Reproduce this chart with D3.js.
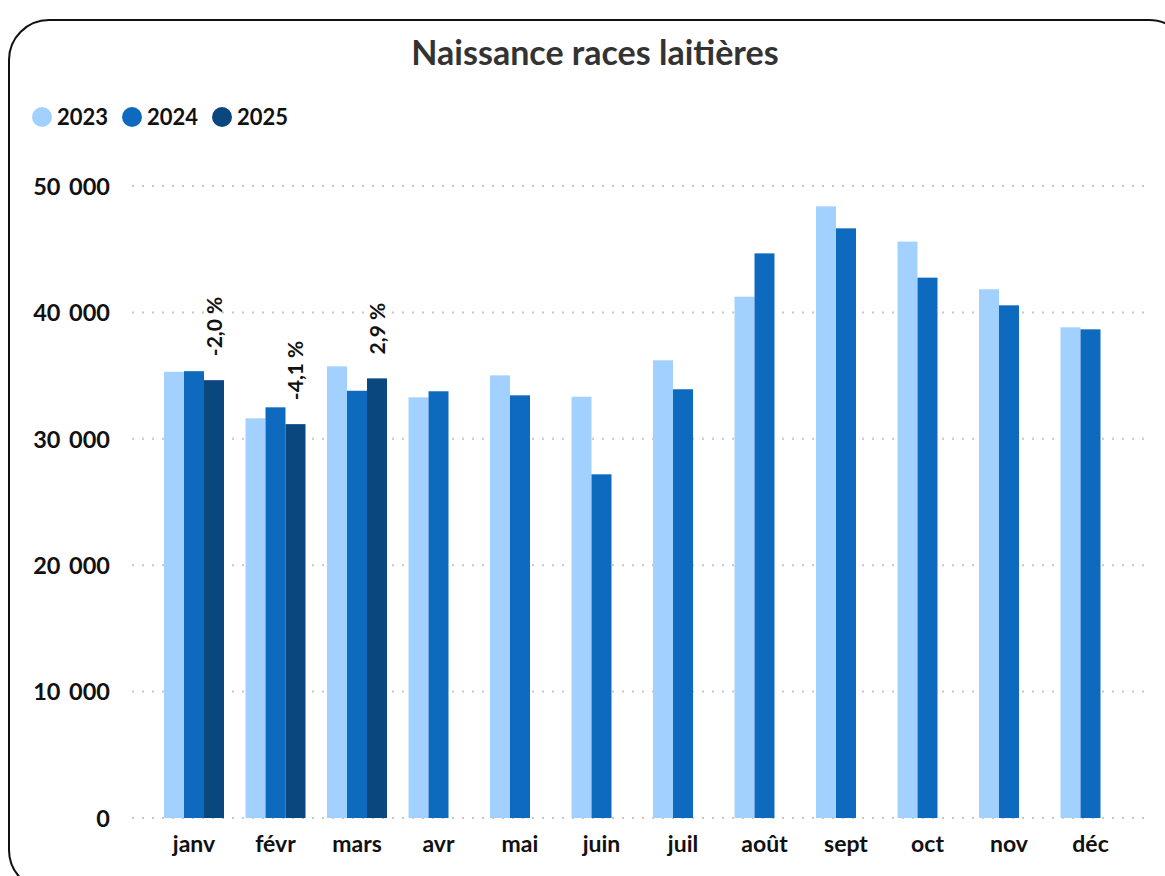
<!DOCTYPE html>
<html><head><meta charset="utf-8">
<script src="https://cdn.jsdelivr.net/npm/d3@7"></script>
<style>
html,body{margin:0;padding:0;background:#fff;}
svg{display:block;font-family:Lato,"Open Sans",sans-serif;}
</style></head>
<body>
<svg id="chart" width="1165" height="876"></svg>
<script>
const months = ["janv","févr","mars","avr","mai","juin","juil","août","sept","oct","nov","déc"];
const seriesNames = ["2023","2024","2025"];
const values2023 = [35300,31620,35730,33280,35020,33330,36210,41240,48390,45600,41830,38820];
const values2024 = [35350,32490,33800,33760,33440,27190,33920,44670,46650,42750,40560,38660];
const values2025 = [34640,31160,34780,null,null,null,null,null,null,null,null,null];
const changeLabels = ["-2,0 %","-4,1 %","2,9 %"];
const yTicks = [0,10000,20000,30000,40000,50000];
const colors = ["#A2D0FF","#0E6ABF","#0B477F"];

const svg = d3.select("#chart");
svg.append("rect").attr("x",9).attr("y",20).attr("width",1180).attr("height",870)
  .attr("rx",40).attr("fill","none").attr("stroke","#111").attr("stroke-width",2);

svg.append("text").attr("x",595).attr("y",65).attr("text-anchor","middle")
  .attr("font-size",34).attr("font-weight",700).attr("fill","#333")
  .text("Naissance races laitières");

const x = d3.scaleBand().domain(months).range([153.25,1131.25]).paddingInner(0.264).paddingOuter(0.132);
const xs = d3.scaleBand().domain(seriesNames).range([0,x.bandwidth()]);
const y = d3.scaleLinear().domain([0,50000]).range([818,186]);
const fmt = v => d3.format(",")(v).replace(/,/g," ");

svg.append("g").selectAll("line").data(yTicks).join("line")
  .attr("x1",132).attr("x2",1152)
  .attr("y1",d=>y(d)).attr("y2",d=>y(d))
  .attr("stroke","#c8c8c8").attr("stroke-width",2).attr("stroke-dasharray","2 8");

const yAxis = d3.axisLeft(y).tickValues(yTicks).tickFormat(fmt).tickSize(0).tickPadding(0);
const gy = svg.append("g").attr("transform","translate(110,0)").call(yAxis);
gy.select(".domain").remove();
gy.selectAll("text").attr("font-size",23.5).attr("font-weight",700).attr("fill","#111")
  .attr("font-family","Lato,'Open Sans',sans-serif").attr("dy","0.35em").attr("word-spacing",3);

const xAxis = d3.axisBottom(x).tickSize(0).tickPadding(0);
const gx = svg.append("g").attr("transform","translate(0,852)").call(xAxis);
gx.select(".domain").remove();
gx.selectAll("text").attr("font-size",23).attr("font-weight",700).attr("fill","#111")
  .attr("font-family","Lato,'Open Sans',sans-serif").attr("dy",0);

const allSeries = [values2023, values2024, values2025];
const rows = [];
allSeries.forEach((arr,si)=>arr.forEach((v,mi)=>{ if(v!=null) rows.push({m:months[mi],s:seriesNames[si],si,v}); }));
svg.append("g").selectAll("rect").data(rows).join("rect")
  .attr("x",d=>x(d.m)+xs(d.s)).attr("width",xs.bandwidth())
  .attr("y",d=>y(d.v)).attr("height",d=>y(0)-y(d.v))
  .attr("fill",d=>colors[d.si]);

svg.append("g").selectAll("text").data(changeLabels).join("text")
  .attr("transform",(d,i)=>`translate(${x(months[i])+xs("2025")+xs.bandwidth()/2+8},${y(values2025[i])-24}) rotate(-90)`)
  .attr("font-size",21).attr("font-weight",700).attr("fill","#111")
  .text(d=>d);

const lg = svg.append("g");
const legX = [42,132,222];
seriesNames.forEach((s,i)=>{
  lg.append("circle").attr("cx",legX[i]).attr("cy",117).attr("r",10).attr("fill",colors[i]);
  lg.append("text").attr("x",legX[i]+15).attr("y",125).attr("font-size",22).attr("font-weight",700).attr("fill","#111").text(s);
});
</script>
</body></html>
